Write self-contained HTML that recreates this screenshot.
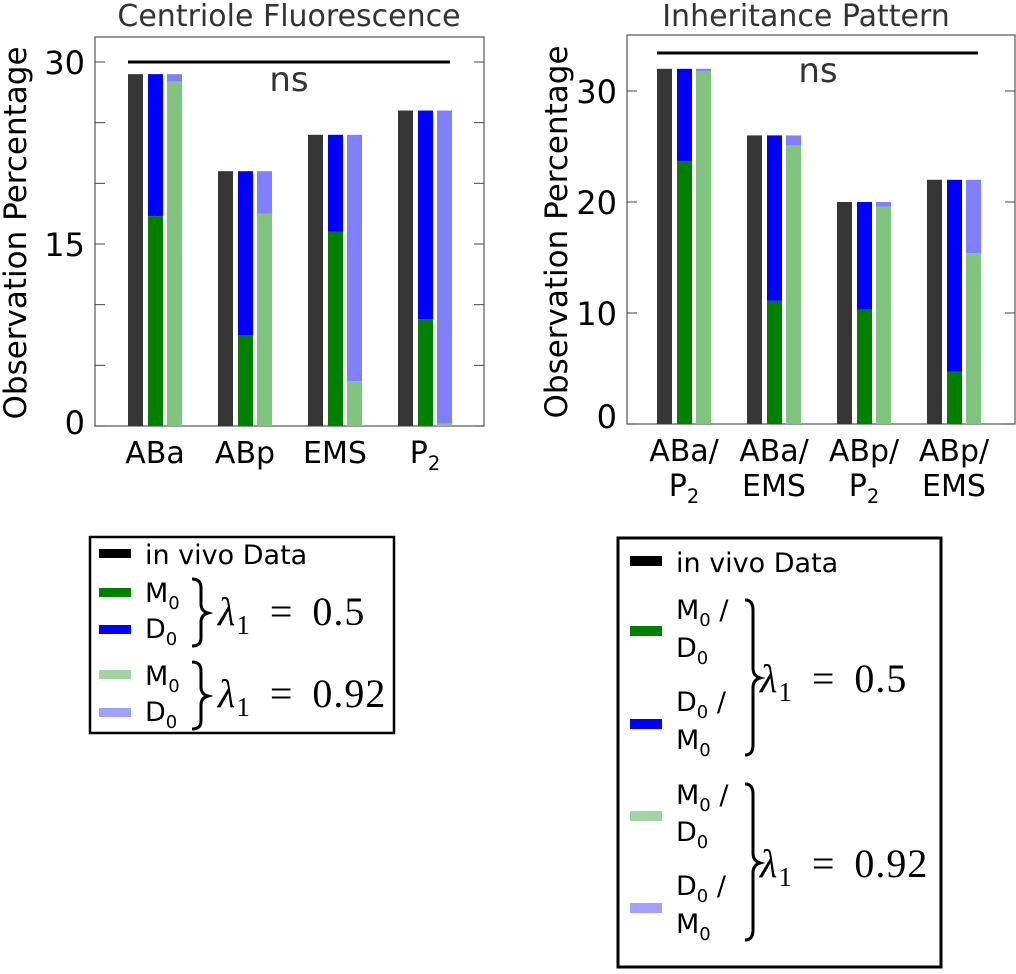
<!DOCTYPE html>
<html><head><meta charset="utf-8"><style>
html,body{margin:0;padding:0;background:#fff;}
svg text{font-family:"DejaVu Sans","Liberation Sans",sans-serif;}
svg text.serif{font-family:"Liberation Serif","DejaVu Serif",serif;word-spacing:8px;letter-spacing:1px;}
</style></head><body>
<svg id="fig" width="1016" height="969" viewBox="0 0 1016 969" xmlns="http://www.w3.org/2000/svg">
<g id="left"></g>
<g id="right"></g>
<g>
<rect x="90" y="537" width="304" height="196" fill="#fff" stroke="#000" stroke-width="2.5"/>
<rect x="99" y="549" width="32" height="9" fill="#000"/>
<text x="145" y="564" font-size="27">in vivo Data</text>
<rect x="99" y="588" width="32" height="9" fill="#008000"/>
<text x="145" y="602" font-size="27">M<tspan font-size="18" dy="7">0</tspan></text>
<rect x="99" y="625" width="32" height="9" fill="#0000ff"/>
<text x="145" y="638" font-size="27">D<tspan font-size="18" dy="7">0</tspan></text>
<rect x="99" y="670" width="32" height="9" fill="#a0d4a0"/>
<text x="145" y="685" font-size="27">M<tspan font-size="18" dy="7">0</tspan></text>
<rect x="99" y="708" width="32" height="9" fill="#a0a0ff"/>
<text x="145" y="721" font-size="27">D<tspan font-size="18" dy="7">0</tspan></text>
<path d="M192,579 Q201,579 201,588 L201,604 Q201,611 208,613 Q201,615 201,622 L201,638 Q201,646 192,646" fill="none" stroke="#000" stroke-width="3"/>
<path d="M192,662 Q201,662 201,671 L201,687 Q201,694 208,696 Q201,698 201,705 L201,721 Q201,729 192,729" fill="none" stroke="#000" stroke-width="3"/>
<text class="serif" x="218" y="625" font-size="40"><tspan font-style="italic">λ</tspan><tspan font-size="27" dy="9">1</tspan><tspan dy="-9"> = 0.5</tspan></text>
<text class="serif" x="218" y="707" font-size="40"><tspan font-style="italic">λ</tspan><tspan font-size="27" dy="9">1</tspan><tspan dy="-9"> = 0.92</tspan></text>
</g>
<g>
<rect x="618" y="538" width="323" height="429" fill="#fff" stroke="#000" stroke-width="3"/>
<rect x="630" y="556" width="32" height="10" fill="#000"/>
<text x="676" y="572" font-size="27">in vivo Data</text>
<rect x="630" y="626" width="32" height="10" fill="#008000"/>
<text x="676" y="619" font-size="27">M<tspan font-size="18" dy="7">0</tspan><tspan dy="-7"> /</tspan></text>
<text x="676" y="657" font-size="27">D<tspan font-size="18" dy="7">0</tspan></text>
<rect x="630" y="719" width="32" height="10" fill="#0000ff"/>
<text x="676" y="711" font-size="27">D<tspan font-size="18" dy="7">0</tspan><tspan dy="-7"> /</tspan></text>
<text x="676" y="749" font-size="27">M<tspan font-size="18" dy="7">0</tspan></text>
<rect x="630" y="811" width="32" height="10" fill="#a0d4a0"/>
<text x="676" y="804" font-size="27">M<tspan font-size="18" dy="7">0</tspan><tspan dy="-7"> /</tspan></text>
<text x="676" y="841" font-size="27">D<tspan font-size="18" dy="7">0</tspan></text>
<rect x="630" y="903" width="32" height="10" fill="#a0a0ff"/>
<text x="676" y="895" font-size="27">D<tspan font-size="18" dy="7">0</tspan><tspan dy="-7"> /</tspan></text>
<text x="676" y="933" font-size="27">M<tspan font-size="18" dy="7">0</tspan></text>
<path d="M745,600 Q753,600 753,610 L753,668 Q753,676 760,678 Q753,680 753,688 L753,745 Q753,755 745,755" fill="none" stroke="#000" stroke-width="3"/>
<path d="M745,784 Q753,784 753,794 L753,853 Q753,861 760,863 Q753,865 753,873 L753,930 Q753,940 745,940" fill="none" stroke="#000" stroke-width="3"/>
<text class="serif" x="760" y="692" font-size="40"><tspan font-style="italic">λ</tspan><tspan font-size="27" dy="9">1</tspan><tspan dy="-9"> = 0.5</tspan></text>
<text class="serif" x="760" y="877" font-size="40"><tspan font-style="italic">λ</tspan><tspan font-size="27" dy="9">1</tspan><tspan dy="-9"> = 0.92</tspan></text>
</g>
</svg>
<script>
// Left chart data
const leftCategories = ["ABa", "ABp", "EMS", "P2"];
const leftInVivo = [29, 21, 24, 26];
const leftM05 = [17.3, 7.5, 16, 8.8];
const leftD05 = [11.7, 13.5, 8, 17.2];
const leftM092 = [28.4, 17.5, 3.7, 0.2];
const leftD092 = [0.6, 3.5, 20.3, 25.8];
const leftTicks = [0, 15, 30];
// Right chart data
const rightCategories = [["ABa/", "P2"], ["ABa/", "EMS"], ["ABp/", "P2"], ["ABp/", "EMS"]];
const rightInVivo = [32, 26, 20, 22];
const rightM05 = [23.7, 11.1, 10.3, 4.7];
const rightD05 = [8.3, 14.9, 9.7, 17.3];
const rightM092 = [31.8, 25.1, 19.6, 15.4];
const rightD092 = [0.2, 0.9, 0.4, 6.6];
const rightTicks = [0, 10, 20, 30];

const NS = "http://www.w3.org/2000/svg";
function mk(parent, tag, attrs, text) {
  const e = document.createElementNS(NS, tag);
  for (const k in attrs) e.setAttribute(k, attrs[k]);
  if (text !== undefined) e.textContent = text;
  parent.appendChild(e);
  return e;
}
function subLabel(parent, x, y, s, size) {
  const t = mk(parent, "text", {x: x, y: y, "font-size": size, "text-anchor": "middle", fill: "#000"});
  const m = s.match(/^(.*?)(\d)$/);
  if (m && s.startsWith("P")) {
    t.appendChild(document.createTextNode(m[1]));
    mk(t, "tspan", {"font-size": size * 0.65, dy: 7}, m[2]);
  } else t.textContent = s;
  return t;
}
function drawChart(g, cfg) {
  const y = v => cfg.y0 - v * cfg.ppu;
  const frame = mk(g, "rect", {x: cfg.fx0, y: cfg.fy0, width: cfg.fx1 - cfg.fx0, height: cfg.y0 - cfg.fy0, fill: "none", stroke: "#555", "stroke-width": 1.2});
  
  
  for (let v = 0; v <= cfg.maxTick; v += cfg.minorStep) {
    mk(g, "line", {x1: cfg.fx0, x2: cfg.fx0 + 10, y1: y(v), y2: y(v), stroke: "#444", "stroke-width": 1});
    mk(g, "line", {x1: cfg.fx1 - 10, x2: cfg.fx1, y1: y(v), y2: y(v), stroke: "#444", "stroke-width": 1});
  }
  cfg.ticks.forEach(v => {
    const t = mk(g, "text", {x: cfg.fx0 - 10, y: y(v) + 12 + (v === 0 ? cfg.zeroShift : 0), "font-size": 32, "text-anchor": "end", fill: "#000"}, String(v));
    
    
  });
  const n = cfg.inVivo.length;
  for (let i = 0; i < n; i++) {
    const x0 = cfg.bx0 + i * cfg.gap;
    const b1 = mk(g, "rect", {x: x0, y: y(cfg.inVivo[i]), width: cfg.bw, height: cfg.inVivo[i] * cfg.ppu, fill: "#363636"});
    
    
    const m = cfg.m05[i], d = cfg.d05[i];
    const b2 = mk(g, "rect", {x: x0 + 20, y: y(m), width: cfg.bw, height: m * cfg.ppu, fill: "#008000"});
    
    
    const b3 = mk(g, "rect", {x: x0 + 20, y: y(m + d), width: cfg.bw, height: d * cfg.ppu, fill: "#0000ff"});
    
    
    const m2 = cfg.m092[i], d2 = cfg.d092[i];
    const b4 = mk(g, "rect", {x: x0 + 39, y: y(m2), width: cfg.bw, height: m2 * cfg.ppu, fill: "#80c480"});
    
    
    const b5 = mk(g, "rect", {x: x0 + 39, y: y(m2 + d2), width: cfg.bw, height: d2 * cfg.ppu, fill: "#8080ff"});
    
    
    const cx = x0 + 27;
    const lines = Array.isArray(cfg.cats[i]) ? cfg.cats[i] : [cfg.cats[i]];
    lines.forEach((s, j) => {
      const t = subLabel(g, cx, cfg.y0 + 37 + j * 35, s, 30);
      
      
    });
  }
  const ns = mk(g, "line", {x1: cfg.bx0, x2: cfg.nsx1, y1: cfg.nsy, y2: cfg.nsy, stroke: "#000", "stroke-width": 3});
  
  
  const nst = mk(g, "text", {x: cfg.nsTx, y: cfg.nsy + 29, "font-size": 34, "text-anchor": "middle", fill: "#333"}, "ns");
  
  
  const tt = mk(g, "text", {x: cfg.titleX, y: 26, "font-size": 30, "text-anchor": "middle", fill: "#333"}, cfg.title);
  
  
  const yl = mk(g, "text", {x: 0, y: 0, "font-size": 31, "text-anchor": "middle", fill: "#000", transform: "translate(" + cfg.ylx + "," + cfg.yly + ") rotate(-90)"}, "Observation Percentage");
  
  
}
drawChart(document.getElementById("left"), {
  fx0: 95, fx1: 484, fy0: 37, y0: 426, ppu: 364 / 30, maxTick: 30, minorStep: 5, ticks: leftTicks, zeroShift: -4,
  bx0: 128, gap: 90, bw: 15, cats: leftCategories,
  inVivo: leftInVivo, m05: leftM05, d05: leftD05, m092: leftM092, d092: leftD092,
  nsx1: 450, nsy: 62, nsTx: 289, title: "Centriole Fluorescence", titleX: 289, ylx: 26, yly: 233
});
drawChart(document.getElementById("right"), {
  fx0: 627, fx1: 1015, fy0: 35, y0: 424, ppu: 11.1, maxTick: 30, minorStep: 10, ticks: rightTicks, zeroShift: -8,
  bx0: 657, gap: 90, bw: 15, cats: rightCategories,
  inVivo: rightInVivo, m05: rightM05, d05: rightD05, m092: rightM092, d092: rightD092,
  nsx1: 978, nsy: 53, nsTx: 818, title: "Inheritance Pattern", titleX: 806, ylx: 567, yly: 232
});
</script>
</body></html>
